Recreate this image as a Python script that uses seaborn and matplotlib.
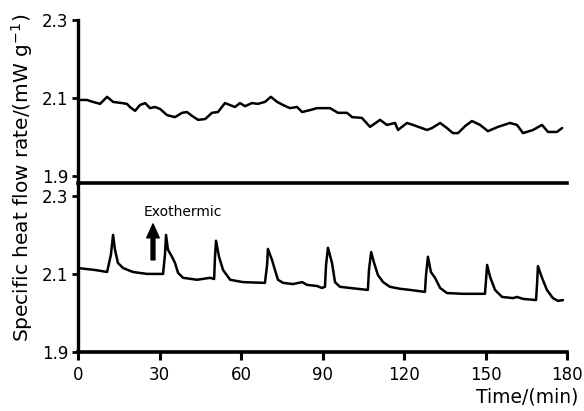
import numpy as np
import pandas as pd
import matplotlib
matplotlib.use("Agg")
import matplotlib.pyplot as plt
import seaborn as sns

# --- data ---
top_time = [0.0, 3.3, 5.5, 8.1, 10.7, 12.9, 16.2, 18.0, 19.1, 21.0, 22.8, 24.7,
            26.5, 28.3, 30.2, 32.8, 35.7, 38.3, 40.1, 42.0, 44.2, 46.8, 49.3,
            51.5, 54.1, 55.9, 57.8, 59.6, 61.5, 64.0, 66.2, 68.8, 71.0, 73.3,
            75.5, 78.0, 80.6, 82.5, 85.4, 88.0, 92.8, 95.7, 99.0, 100.9, 104.5,
            107.5, 111.2, 113.7, 116.7, 117.8, 121.1, 123.3, 128.5, 130.3, 133.3,
            135.8, 138.0, 139.9, 142.5, 145.0, 148.0, 150.9, 154.6, 159.0, 161.6,
            163.8, 167.5, 170.8, 173.0, 176.3, 178.2]
top_flow = [2.095, 2.095, 2.090, 2.085, 2.103, 2.090, 2.087, 2.085, 2.077, 2.067,
            2.082, 2.087, 2.074, 2.077, 2.072, 2.056, 2.051, 2.062, 2.064, 2.054,
            2.044, 2.046, 2.062, 2.064, 2.087, 2.082, 2.077, 2.087, 2.079, 2.087,
            2.085, 2.090, 2.103, 2.090, 2.082, 2.074, 2.077, 2.064, 2.069, 2.074,
            2.074, 2.062, 2.062, 2.051, 2.049, 2.026, 2.044, 2.031, 2.036, 2.018,
            2.036, 2.031, 2.018, 2.023, 2.036, 2.023, 2.010, 2.010, 2.028, 2.041,
            2.031, 2.015, 2.026, 2.036, 2.031, 2.010, 2.018, 2.031, 2.013, 2.013,
            2.023]

bot_time = [0.0, 6.3, 10.7, 12.1, 12.9, 13.6, 14.7, 16.6, 20.2, 25.4, 31.3, 32.0,
            32.4, 33.1, 34.6, 35.7, 36.8, 38.7, 43.8, 48.6, 50.1, 50.4, 50.8, 51.9,
            53.4, 56.0, 60.7, 68.8, 69.6, 69.9, 71.4, 72.5, 73.6, 75.5, 79.1, 82.5,
            84.3, 88.0, 89.8, 90.9, 91.3, 92.0, 93.5, 94.6, 96.4, 100.1, 106.7,
            107.1, 107.9, 109.0, 110.4, 112.3, 114.8, 118.5, 122.2, 127.7, 128.1,
            128.8, 129.9, 131.4, 133.3, 135.8, 141.7, 149.8, 150.2, 150.6, 151.7,
            153.5, 156.1, 160.1, 161.6, 163.8, 168.6, 169.0, 169.3, 170.8, 172.6,
            174.8, 176.7, 178.5]
bot_flow = [2.115, 2.110, 2.105, 2.149, 2.200, 2.162, 2.128, 2.115, 2.105, 2.100,
            2.100, 2.149, 2.200, 2.162, 2.144, 2.128, 2.103, 2.090, 2.085, 2.090,
            2.087, 2.141, 2.185, 2.144, 2.110, 2.085, 2.079, 2.077, 2.123, 2.164,
            2.136, 2.110, 2.085, 2.077, 2.074, 2.079, 2.072, 2.069, 2.064, 2.067,
            2.123, 2.167, 2.128, 2.079, 2.067, 2.064, 2.059, 2.110, 2.156, 2.128,
            2.097, 2.079, 2.067, 2.062, 2.059, 2.054, 2.097, 2.144, 2.105, 2.090,
            2.064, 2.051, 2.049, 2.049, 2.085, 2.123, 2.092, 2.059, 2.041, 2.038,
            2.041, 2.036, 2.033, 2.077, 2.120, 2.090, 2.059, 2.038, 2.031, 2.033]

y_ticks = [1.9, 2.1, 2.3]
x_ticks = [0, 30, 60, 90, 120, 150, 180]

top_df = pd.DataFrame({"time": top_time, "flow": top_flow})
bot_df = pd.DataFrame({"time": bot_time, "flow": bot_flow})

sns.set_style("ticks")
plt.rcParams['font.family'] = ['DejaVu Sans']
plt.rcParams['text.color'] = 'black'
plt.rcParams['axes.labelcolor'] = 'black'
plt.rcParams['xtick.color'] = 'black'
plt.rcParams['ytick.color'] = 'black'

fig = plt.figure(figsize=(5.84, 4.11), dpi=100)
ax_bot = fig.add_axes([0.1336, 0.1436, 0.8373, 0.4112])
ax_top = fig.add_axes([0.1336, 0.5547, 0.8373, 0.3966])

sns.lineplot(data=top_df, x="time", y="flow", ax=ax_top, color="black", lw=1.8)
sns.lineplot(data=bot_df, x="time", y="flow", ax=ax_bot, color="black", lw=1.8)

# --- axes styling ---
for ax in (ax_top, ax_bot):
    ax.set_facecolor("none")
    ax.set_xlim(0, 180)
    ax.set_yticks(y_ticks)
    ax.set_yticklabels([str(v) for v in y_ticks], fontsize=12)
    ax.set_xlabel("")
    ax.set_ylabel("")
    for s in ("top", "right"):
        ax.spines[s].set_visible(False)
    ax.spines["left"].set_linewidth(2.4)
    ax.spines["left"].set_color("black")
    ax.spines["bottom"].set_linewidth(2.6)
    ax.spines["bottom"].set_color("black")
    ax.tick_params(axis="both", colors="black", direction="out",
                   length=4, width=2, pad=3)

ax_top.set_ylim(1.882, 2.3)
ax_top.set_xticks([])
ax_bot.set_ylim(1.9, 2.333)
ax_bot.set_xticks(x_ticks)
ax_bot.set_xticklabels([str(v) for v in x_ticks], fontsize=12)
ax_bot.tick_params(axis="x", length=6, width=2.2, pad=4)

# annotation
ax_bot.annotate("", xy=(27.6, 2.228), xytext=(27.6, 2.136),
                arrowprops=dict(width=2.8, headwidth=9, headlength=10,
                                color="black", shrink=0))
ax_bot.text(24, 2.259, "Exothermic", fontsize=10, va="center", ha="left",
            color="black")

fig.text(0.038, 0.567, "Specific heat flow rate/(mW g$^{-1}$)", rotation=90,
         fontsize=14.5, ha="center", va="center", color="black")
fig.text(0.99, 0.035, "Time/(min)", fontsize=13.5, ha="right", va="center",
         color="black")

fig.savefig("out.png", dpi=100)
